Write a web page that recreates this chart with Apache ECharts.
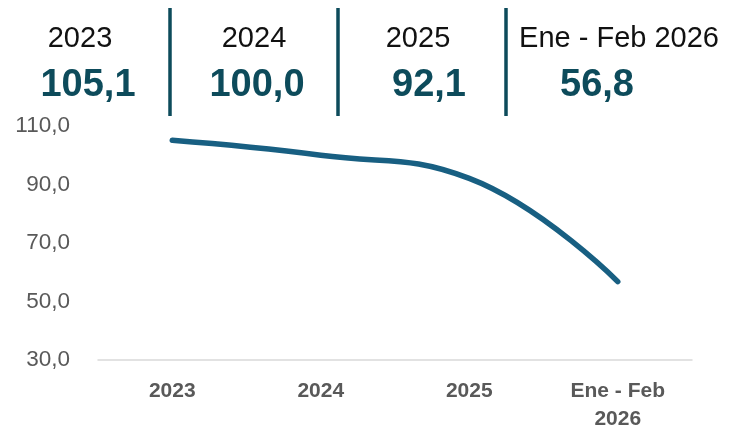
<!DOCTYPE html>
<html><head><meta charset="utf-8">
<script src="https://cdn.jsdelivr.net/npm/echarts@6/dist/echarts.min.js"></script>
<style>html,body{margin:0;padding:0;background:#fff}#c{width:737px;height:428px}</style>
</head><body><div id="c"></div>
<script>
const categories = ['2023', '2024', '2025', 'Ene - Feb\n2026'];
const values = [105.1, 100.0, 92.1, 56.8];
const headerLabels = ['2023', '2024', '2025', 'Ene - Feb 2026'];
const headerValues = ['105,1', '100,0', '92,1', '56,8'];
const yTicks = { min: 30, max: 110, interval: 20 };

const chart = echarts.init(document.getElementById('c'), null, { renderer: 'canvas' });
const fam = '"Liberation Sans", Arial, sans-serif';
const labelX = [80, 254, 418, 619];
const valueX = [88, 257, 429, 597];
const sepX = [170, 338, 506];
const g2 = [];
headerLabels.forEach((t, i) => {
  g2.push({ type: 'text', x: labelX[i], y: 39, style: { text: t, fill: '#111', font: '29px ' + fam, align: 'center', verticalAlign: 'middle' } });
  g2.push({ type: 'text', x: valueX[i], y: 86, style: { text: headerValues[i], fill: '#0d4b5b', font: 'bold 38px ' + fam, align: 'center', verticalAlign: 'middle' } });
});
sepX.forEach(x => {
  g2.push({ type: 'line', shape: { x1: x, y1: 8, x2: x, y2: 116 }, style: { stroke: '#0d4b5b', lineWidth: 3.5 } });
});

chart.setOption({
  animation: false,
  grid: { left: 98, right: 45, top: 126, bottom: 68, containLabel: false, outerBoundsMode: 'none' },
  xAxis: {
    type: 'category', data: categories, boundaryGap: true,
    axisLine: { lineStyle: { color: '#d9d9d9', width: 1.5 } },
    axisTick: { show: false },
    axisLabel: { color: '#595959', fontSize: 21, fontWeight: 'bold', fontFamily: fam, margin: 17, lineHeight: 28 }
  },
  yAxis: {
    type: 'value', min: yTicks.min, max: yTicks.max, interval: yTicks.interval,
    splitLine: { show: false },
    axisLine: { show: false }, axisTick: { show: false },
    axisLabel: { color: '#595959', fontSize: 22.5, fontFamily: fam, margin: 28,
      formatter: v => v.toFixed(1).replace('.', ',') }
  },
  series: [{
    type: 'line', data: values, smooth: 0.45, symbol: 'none',
    lineStyle: { color: '#185f82', width: 5.5, cap: 'round' }
  }],
  graphic: g2
});
</script></body></html>
